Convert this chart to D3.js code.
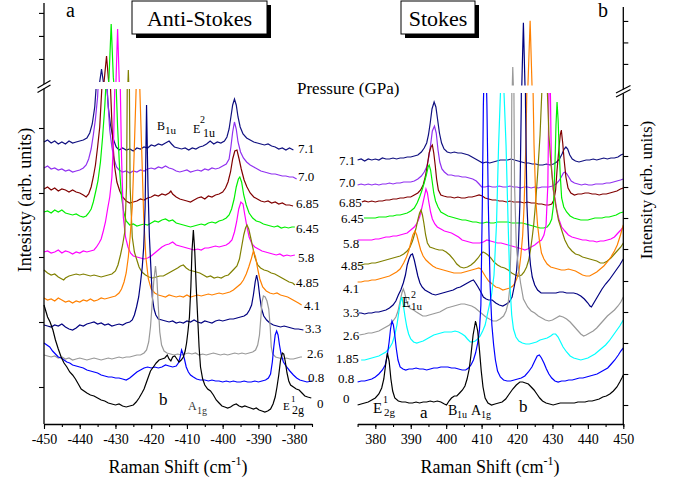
<!DOCTYPE html>
<html>
<head>
<meta charset="utf-8">
<script src="https://cdnjs.cloudflare.com/ajax/libs/d3/7.8.5/d3.min.js"></script>
<style>
body { margin: 0; background: #fff; }
svg { display: block; }
svg text { font-family: 'Liberation Serif', 'Times New Roman', Times, serif !important; }
</style>
</head>
<body>
<svg id="chart" width="676" height="487"></svg>
<script>
// ---- data: anti-stokes (left) spectra, [raman shift, intensity a.u.] ----
var asPressures = ["7.1", "7.0", "6.85", "6.45", "5.8", "4.85", "4.1", "3.3", "2.6", "0.8", "0"];
var asColors = ["#101080", "#9030f0", "#800000", "#00f000", "#ff00ff", "#808000", "#ff8000", "#000080", "#999999", "#0000ff", "#000000"];

var asP71 = [[-450,245],[-449,247],[-448,244],[-447,246],[-446,243],[-445,245],[-444,243],[-443,246],[-442,244],[-441,245],[-440,246],[-439,247],[-438,249],[-437.2,254],[-436.5,263],[-435.8,280],[-435.2,310],[-434.6,380],[-433.9,456],[-433.2,380],[-432.6,310],[-432,280],[-431.4,262],[-430.6,248],[-429.8,240],[-429,237],[-428,239],[-427,237],[-426,238],[-425,236],[-424,239],[-423,238],[-422,240],[-421,239],[-420,242],[-419,241],[-418,243],[-417,242],[-416,244],[-415,246],[-414.3,243],[-413.5,240],[-412.5,239],[-411.5,238],[-410.5,239],[-409.5,237],[-408.5,239],[-407.5,238],[-406.5,240],[-405.5,241],[-404.5,243],[-403.5,246],[-402.5,243],[-401.5,245],[-400.5,244],[-399.5,246],[-398.8,250],[-398.2,258],[-397.7,270],[-397.2,282],[-396.7,288],[-396.2,282],[-395.7,270],[-395.1,260],[-394.3,253],[-393.3,249],[-392.3,247],[-391.3,245],[-390.3,244],[-389.3,243],[-388.3,242],[-387.3,243],[-386.3,241],[-385.3,240],[-384.3,238],[-383.3,239],[-382.3,237],[-381.3,239],[-380.2,237]];
var asP70 = [[-450,219],[-449,221],[-448,218],[-447,219],[-446,217],[-445,218],[-444,216],[-443,217],[-442,215],[-441,216],[-440,217],[-439,219],[-438.2,222],[-437.5,228],[-436.8,238],[-436.2,252],[-435.6,268],[-435,290],[-434.3,340],[-433.5,370],[-432.8,340],[-432.2,290],[-431.6,257],[-431,240],[-430.4,228],[-429.7,220],[-429,217],[-428,215],[-427,216],[-426,214],[-425,216],[-424,215],[-423,217],[-422,216],[-421,218],[-420,219],[-419,218],[-418,220],[-417,219],[-416,221],[-415,219],[-414,218],[-413,216],[-412,215],[-411,216],[-410,217],[-409,215],[-408,216],[-407,217],[-406,216],[-405,218],[-404,217],[-403,219],[-402,218],[-401,219],[-400,221],[-399,223],[-398.2,228],[-397.7,240],[-397.2,255],[-396.7,265],[-396.2,258],[-395.7,245],[-395,235],[-394.2,229],[-393.3,225],[-392.3,222],[-391.3,220],[-390.3,218],[-389.3,216],[-388.3,215],[-387.3,214],[-386.3,213],[-385.3,213],[-384.3,212],[-383.3,211],[-382.3,211],[-381.3,210],[-380.3,210],[-379.3,208]];
var asP685 = [[-450,198],[-449,200],[-448,197],[-447,199],[-446,196],[-445,198],[-444,197],[-443,195],[-442,197],[-441,195],[-440,194],[-439,192],[-438.2,190],[-437.5,193],[-436.8,200],[-436.2,210],[-435.6,222],[-435,240],[-434.4,260],[-433.8,300],[-433.2,400],[-432.5,513],[-431.9,400],[-431.4,300],[-430.9,255],[-430.3,222],[-429.6,205],[-428.8,196],[-428,190],[-427,186],[-426,184],[-425,185],[-424,186],[-423,188],[-422,187],[-421,189],[-420,190],[-419,192],[-418,191],[-417,193],[-416,192],[-415,194],[-414.5,196],[-414,193],[-413,190],[-412,188],[-411,187],[-410,186],[-409,185],[-408,187],[-407,189],[-406,190],[-405,188],[-404,191],[-403,190],[-402,192],[-401,193],[-400,195],[-399.2,199],[-398.5,205],[-397.8,215],[-397.2,228],[-396.6,236],[-396,237],[-395.4,228],[-394.8,218],[-394,207],[-393.2,200],[-392.3,194],[-391.3,190],[-390.3,188],[-389.3,186],[-388.3,185],[-387.3,186],[-386.3,184],[-385.3,185],[-384.3,183],[-383.3,184],[-382.3,182],[-381.3,182],[-380.3,181]];
var asP645 = [[-450,175],[-449,176],[-448,174],[-447,177],[-446,175],[-445,177],[-444,174],[-443,173],[-442,172],[-441,173],[-440,171],[-439,170],[-438.2,171],[-437.5,174],[-436.8,178],[-436.2,185],[-435.5,196],[-434.9,206],[-434.2,225],[-433.6,250],[-433,280],[-432.4,320],[-431.8,420],[-431.2,652],[-430.6,420],[-430,320],[-429.4,260],[-428.8,215],[-428.3,190],[-427.7,175],[-427,166],[-426,162],[-425,163],[-424,161],[-423,162],[-422,163],[-421,162],[-420,164],[-419,166],[-418,165],[-417,167],[-416,168],[-415,166],[-414,167],[-413,164],[-412,163],[-411,162],[-410,161],[-409,160],[-408,161],[-407,162],[-406,163],[-405,162],[-404,164],[-403,165],[-402,164],[-401,166],[-400,167],[-399,169],[-398.2,172],[-397.5,178],[-396.8,188],[-396.2,200],[-395.6,208],[-395.2,210],[-394.7,205],[-394.1,192],[-393.4,182],[-392.6,174],[-391.6,169],[-390.6,166],[-389.6,165],[-388.6,163],[-387.6,162],[-386.6,161],[-385.6,160],[-384.6,161],[-383.6,159],[-382.6,160],[-381.6,159],[-380.6,160],[-379.8,160]];
var asP58 = [[-450,135],[-449,136],[-448,134],[-447,135],[-446,137],[-445,134],[-444,136],[-443,135],[-442,133],[-441,135],[-440,134],[-439,136],[-438,135],[-437,136],[-436,137],[-435.3,140],[-434.6,144],[-434,148],[-433.4,156],[-432.8,165],[-432.2,178],[-431.6,190],[-431,210],[-430.5,250],[-430,330],[-429.4,630],[-428.8,330],[-428.3,230],[-427.8,170],[-427.2,150],[-426.5,140],[-425.8,134],[-425,131],[-424,130],[-423,129],[-422,128],[-421,129],[-420,131],[-419,134],[-418,137],[-417,140],[-416,142],[-415,143],[-414,145],[-413,142],[-412,141],[-411,140],[-410,139],[-409,138],[-408,137],[-407,138],[-406,137],[-405,139],[-404,139],[-403,140],[-402,141],[-401,140],[-400,141],[-399,142],[-398.2,144],[-397.4,147],[-396.7,155],[-396.1,165],[-395.5,178],[-394.9,185],[-394.3,183],[-393.8,172],[-393.2,160],[-392.6,150],[-391.8,143],[-391,140],[-390,138],[-389,136],[-388,135],[-387,134],[-386,133],[-385,132],[-384,133],[-383,131],[-382,132],[-381,131],[-379.8,132]];
var asP485 = [[-450,117],[-449,114],[-448,112],[-447,113],[-446,110],[-445,108],[-444.5,107],[-444,109],[-443,111],[-442,112],[-441,113],[-440,112],[-439,113],[-438,112],[-437,111],[-436,112],[-435,111],[-434,110],[-433,111],[-432,112],[-431,113],[-430,116],[-429.3,122],[-428.6,132],[-428,142],[-427.4,155],[-426.9,200],[-426.4,452],[-425.9,200],[-425.3,150],[-424.7,135],[-424.1,128],[-423.4,120],[-422.6,115],[-421.6,112],[-420.6,110],[-419.6,109],[-418.6,110],[-417.6,111],[-416.6,111],[-415.6,113],[-414.6,115],[-413.6,117],[-412.6,119],[-411.8,121],[-411,122],[-410.2,119],[-409.4,117],[-408.4,116],[-407.4,115],[-406.4,114],[-405.4,112],[-404.4,110],[-403.4,111],[-402.4,109],[-401.4,110],[-400.4,109],[-399.4,111],[-398.4,112],[-397.6,115],[-396.8,118],[-396,121],[-395.3,128],[-394.7,140],[-394.1,152],[-393.6,159],[-393.2,162],[-392.7,158],[-392.2,150],[-391.6,140],[-391,130],[-390.2,122],[-389.4,119],[-388.4,117],[-387.4,116],[-386.4,114],[-385.4,113],[-384.4,111],[-383.4,109],[-382.4,107],[-381.4,105],[-380.4,104],[-379.8,102]];
var asP41 = [[-450,89],[-449,87],[-448,88],[-447,86],[-446,89],[-445,87],[-444,85],[-443,86],[-442,84],[-441,86],[-440,85],[-439,87],[-438,86],[-437,88],[-436,86],[-435,87],[-434,89],[-433,88],[-432,89],[-431,90],[-430,91],[-429,94],[-428.3,98],[-427.6,105],[-427,114],[-426.4,130],[-425.9,150],[-425.3,180],[-424.8,230],[-424.2,300],[-423.7,370],[-423.2,300],[-422.6,230],[-422.1,170],[-421.5,130],[-420.8,108],[-420,98],[-419,94],[-418,92],[-417,91],[-416,90],[-415,92],[-414,91],[-413,90],[-412,91],[-411,90],[-410,92],[-409,90],[-408,91],[-407,92],[-406,91],[-405,92],[-404,93],[-403,92],[-402,93],[-401,94],[-400,93],[-399,94],[-398,95],[-397,97],[-396,100],[-395,103],[-394.2,107],[-393.4,113],[-392.7,120],[-392,128],[-391.4,136],[-390.8,130],[-390.2,118],[-389.6,108],[-388.8,100],[-387.8,96],[-386.8,94],[-385.8,93],[-384.8,94],[-383.8,92],[-382.8,91],[-381.8,90],[-380.8,88],[-379.8,86],[-378.8,84],[-377.9,82]];
var asP33 = [[-450,62],[-449,61],[-448,60],[-447,62],[-446,61],[-445,63],[-444,60],[-443,58],[-442,57],[-441,59],[-440,62],[-439,61],[-438,63],[-437,64],[-436,65],[-435,63],[-434,64],[-433,62],[-432,63],[-431,61],[-430,62],[-429,63],[-428,62],[-427,64],[-426,65],[-425.3,67],[-424.7,72],[-424.1,80],[-423.5,90],[-423,104],[-422.5,120],[-422.1,140],[-421.7,180],[-421.3,282],[-420.9,200],[-420.5,150],[-420.1,120],[-419.7,90],[-419.2,78],[-418.7,72],[-418,68],[-417,67],[-416,66],[-415,65],[-414,66],[-413,64],[-412,65],[-411,64],[-410,66],[-409,65],[-408,67],[-407,65],[-406,64],[-405,66],[-404,65],[-403,64],[-402,66],[-401,67],[-400,66],[-399,67],[-398,68],[-397,68],[-396,69],[-395,70],[-394,71],[-393.2,73],[-392.5,77],[-391.9,82],[-391.4,92],[-390.9,105],[-390.5,112],[-390.1,105],[-389.6,90],[-389.1,78],[-388.5,71],[-387.7,67],[-386.8,64],[-385.8,62],[-384.8,61],[-383.8,60],[-382.8,61],[-381.8,60],[-380.8,59],[-379.8,58],[-378.8,58],[-377.4,57]];
var asP26 = [[-450,32],[-449,31],[-448,30],[-447,31],[-446,29],[-445,30],[-444,28],[-443,29],[-442,27],[-441,28],[-440,29],[-439,28],[-438,27],[-437,28],[-436,29],[-435,28],[-434,27],[-433,28],[-432,29],[-431,28],[-430,29],[-429,30],[-428,29],[-427,30],[-426,30],[-425,31],[-424,32],[-423,32],[-422,34],[-421.3,37],[-420.7,45],[-420.2,60],[-419.8,80],[-419.3,105],[-418.8,121],[-418.4,108],[-418,80],[-417.6,55],[-417.1,42],[-416.4,36],[-415.6,34],[-414.6,33],[-413.6,32],[-412.6,33],[-411.6,32],[-410.6,33],[-409.6,34],[-408.6,33],[-407.6,34],[-406.6,32],[-405.6,33],[-404.6,32],[-403.6,33],[-402.6,34],[-401.6,33],[-400.6,32],[-399.6,33],[-398.6,32],[-397.6,33],[-396.6,34],[-395.6,33],[-394.6,34],[-393.6,33],[-392.6,34],[-391.6,35],[-390.8,37],[-390.2,42],[-389.7,52],[-389.3,70],[-389,85],[-388.6,91],[-388.1,90],[-387.6,86],[-387.1,78],[-386.7,60],[-386.4,40],[-386,33],[-385.2,30],[-384.2,29],[-383.2,28],[-382.2,29],[-381.2,28],[-380.2,28],[-379.2,29],[-378.2,30],[-377.8,30]];
var asP08 = [[-450,44],[-449.2,42],[-448.4,40],[-447.6,36],[-446.8,33],[-446,30],[-445.2,29],[-444.4,27],[-443.6,25],[-442.8,24],[-442,22],[-441,21],[-440,20],[-439,19],[-438,17],[-437,16],[-436,15],[-435,14],[-434,12],[-433,11],[-432,10],[-431,10],[-430,9],[-429,9],[-428,8],[-427,7],[-426,9],[-425,12],[-424,15],[-423,17],[-422,19],[-421,20],[-420,19],[-419,20],[-418,19],[-417,20],[-416,22],[-415,21],[-414,20],[-413,21],[-412.4,24],[-411.9,30],[-411.5,37],[-411.1,33],[-410.7,28],[-410.2,20],[-409.6,15],[-409,12],[-408.2,10],[-407.3,8],[-406.3,7],[-405,7],[-404,6],[-403,7],[-402,6],[-401,6],[-400,5],[-399,6],[-398,5],[-397,6],[-396,5],[-395,5],[-394,6],[-393,5],[-392,5],[-391,6],[-390,5],[-389,6],[-388,7],[-387.2,9],[-386.6,13],[-386.1,25],[-385.7,40],[-385.3,52],[-384.9,56],[-384.5,52],[-384.1,42],[-383.6,32],[-383,25],[-382.1,20],[-381.2,16],[-380.2,12],[-379.3,9],[-378.4,7],[-377.4,6],[-376.4,5],[-375,6]];
var asP0 = [[-450,82],[-449.5,76],[-449,70],[-448.3,65],[-447.5,57],[-446.8,47],[-446,38],[-445.2,30],[-444.4,24],[-443.6,20],[-442.8,15],[-442,12],[-441.2,8],[-440.4,3],[-439.6,-2],[-438.8,-4],[-438,-6],[-437,-8],[-436,-9],[-435,-11],[-434,-13],[-433,-14],[-432,-16],[-431,-17],[-430,-18],[-429,-17],[-428,-19],[-427,-20],[-426,-19],[-425,-18],[-424.2,-15],[-423.4,-11],[-422.6,-6],[-422,-2],[-421.4,4],[-420.8,10],[-420.2,16],[-419.4,20],[-418.6,24],[-417.8,27],[-417,28],[-416.2,29],[-415.5,32],[-415,28],[-414.5,26],[-414,30],[-413.4,31],[-412.8,28],[-412.2,25],[-411.6,27],[-411,30],[-410.5,36],[-410.1,44],[-409.7,56],[-409.3,70],[-408.9,100],[-408.6,135],[-408.2,157],[-407.8,135],[-407.4,100],[-407,70],[-406.6,40],[-406.2,20],[-405.6,8],[-405,2],[-404.2,-2],[-403.4,-4],[-402.6,-8],[-401.8,-13],[-401,-16],[-400.2,-19],[-399.4,-20],[-398.6,-21],[-397.8,-20],[-397,-18],[-396.2,-17],[-395.4,-19],[-394.6,-20],[-393.8,-19],[-393,-20],[-392.2,-21],[-391.4,-22],[-390.6,-21],[-389.8,-23],[-389,-24],[-388.2,-25],[-387.4,-24],[-386.6,-22],[-385.9,-17],[-385.3,-10],[-384.8,0],[-384.3,12],[-383.8,27],[-383.3,34],[-382.9,33],[-382.5,26],[-382,14],[-381.5,6],[-381,2],[-380.2,0],[-379.4,-2],[-378.6,-3],[-377.8,-6],[-377,-9],[-376.2,-10],[-375.2,-11]];

// ---- data: stokes (right) spectra ----
var stPressures = ["7.1", "7.0", "6.85", "6.45", "5.8", "4.85", "4.1", "3.3", "2.6", "1.85", "0.8", "0"];
var stColors = ["#101080", "#9030f0", "#800000", "#00f000", "#ff00ff", "#808000", "#ff8000", "#000080", "#999999", "#00ffff", "#0000ff", "#000000"];

var stP71 = [[375,245],[376,246],[377,244],[378,246],[379,245],[380,246],[381,245],[382,247],[383,246],[384,246],[385,247],[386,246],[387,247],[388,247],[389,248],[390,248],[391,249],[392,250],[393,253],[393.8,257],[394.5,262],[395,270],[395.5,282],[396,296],[396.6,303],[397.1,298],[397.6,285],[398.1,272],[398.7,262],[399.4,256],[400.3,253],[401.3,252],[402.3,253],[403.3,252],[404.3,252],[405.3,251],[406.3,250],[407.3,248],[408.3,246],[409.3,244],[410.3,242],[411.3,243],[412.3,242],[413.3,243],[414.3,244],[415.3,245],[416.3,245],[417.3,245],[418.3,246],[419.3,245],[420.3,244],[421.3,243],[422.3,242],[423.3,242],[424.3,241],[425.3,241],[426.3,240],[427.3,240],[428.3,241],[429.3,240],[430.3,241],[431.2,243],[432,246],[432.7,251],[433.3,256],[433.8,258],[434.3,256],[434.9,250],[435.6,246],[436.5,244],[437.5,243],[438.5,244],[439.5,245],[440.5,245],[441.5,246],[442.5,245],[443.5,246],[444.5,247],[445.5,246],[446.5,247],[447.5,247],[448.5,248],[449.3,250],[450,251]];
var stP70 = [[375,220],[376,221],[377,220],[378,221],[379,220],[380,221],[381,220],[382,221],[383,221],[384,222],[385,221],[386,222],[387,222],[388,223],[389,223],[390,223],[391,224],[392,226],[393,229],[393.8,233],[394.5,238],[395.1,248],[395.6,260],[396.1,274],[396.7,279],[397.2,272],[397.7,255],[398.2,243],[398.8,236],[399.5,233],[400.5,230],[401.5,230],[402.5,229],[403.5,229],[404.5,228],[405.5,228],[406.5,227],[407.5,226],[408.5,224],[409.3,221],[410,218],[411,218],[412,219],[413,218],[414,218],[415,219],[416,218],[417,218],[418,219],[419,218],[420,218],[421,217],[422,218],[423,218],[424,217],[425,218],[426,217],[427,218],[428,218],[429,218],[430,219],[431,221],[431.8,224],[432.5,228],[433.1,232],[433.6,233],[434.1,231],[434.6,228],[435.3,224],[436.2,222],[437.2,221],[438.2,220],[439.2,221],[440.2,220],[441.2,220],[442.2,221],[443.2,221],[444.2,221],[445.2,222],[446.2,222],[447.2,223],[448.2,224],[449.2,225],[450,226]];
var stP685 = [[376.2,203],[377,204],[378,203],[379,204],[380,203],[381,204],[382,204],[383,205],[384,205],[385,206],[386,206],[387,207],[388,207],[389,208],[390,208],[391,210],[392,212],[392.8,215],[393.5,220],[394.1,228],[394.7,240],[395.2,252],[395.7,258],[396.1,260],[396.5,252],[396.9,240],[397.3,226],[397.8,215],[398.5,210],[399.3,209],[400.3,208],[401.3,208],[402.3,207],[403.3,208],[404.3,207],[405.3,207],[406.3,208],[407.3,208],[408.3,209],[409.3,210],[410.2,209],[411,207],[412,206],[413,205],[414,205],[415,204],[416,204],[417,203],[418,204],[419,203],[420,203],[421,203],[422,202],[423,203],[424,202],[425,202],[426,201],[427,201],[428,200],[429,200],[429.8,201],[430.4,205],[430.9,215],[431.3,235],[431.8,255],[432.2,270],[432.5,275],[432.9,262],[433.3,245],[433.8,228],[434.4,217],[435.2,212],[436.2,210],[437.2,211],[438.2,211],[439.2,212],[440.2,212],[441.2,211],[442.2,211],[443.2,210],[444.2,211],[445.2,211],[446.2,212],[447.2,213],[448.2,214],[449.2,216],[450,217]];
var stP645 = [[376.8,187],[378,187],[379,187],[380,187],[381,188],[382,188],[383,188],[384,189],[385,189],[386,190],[387,190],[388,191],[389,192],[390,194],[391,197],[391.8,202],[392.5,208],[393.2,215],[393.8,222],[394.4,230],[394.9,238],[395.2,240],[395.6,235],[396,225],[396.5,212],[397,204],[397.7,198],[398.5,193],[399.5,191],[400.5,189],[401.5,188],[402.5,187],[403.5,186],[404.5,185],[405.5,185],[406.5,184],[407.5,183],[408.5,183],[409.5,182],[410.5,182],[411.5,183],[412.5,182],[413.5,182],[414.5,183],[415.5,183],[416.5,183],[417.5,183],[418.5,182],[419.5,182],[420.5,182],[421.5,182],[422.5,181],[423.5,180],[424.5,179],[425.5,178],[426.5,177],[427.5,177],[428.5,178],[429.2,181],[429.8,186],[430.3,200],[430.7,240],[431,280],[431.3,303],[431.6,285],[431.9,255],[432.2,230],[432.6,207],[433.2,198],[434,193],[435,189],[436,187],[437,186],[438,185],[439,185],[440,185],[441,186],[442,187],[443,187],[444,187],[445,188],[446,188],[447,189],[448,190],[449,192],[450,193]];
var stP58 = [[375,165],[376,165],[377,165],[378,165],[379,165],[380,166],[381,166],[382,167],[383,168],[384,168],[385,169],[386,169],[387,170],[388,171],[389,172],[390,175],[391,178],[391.8,182],[392.5,188],[393,195],[393.5,203],[394,211],[394.3,216],[394.7,212],[395.1,203],[395.6,193],[396.1,186],[396.8,181],[397.5,178],[398.5,176],[399.5,174],[400.5,173],[401.5,172],[402.5,170],[403.5,168],[404.5,165],[405.5,164],[406.5,163],[407.5,162],[408.5,162],[409.5,162],[410.5,163],[411.5,165],[412.5,164],[413.5,163],[414.5,162],[415.5,162],[416.5,161],[417.5,160],[418.5,159],[419.5,158],[420.5,157],[421.5,156],[422.2,155],[423,156],[424,158],[425,160],[426,163],[426.9,165],[427.6,170],[428.2,180],[428.7,220],[429.2,370],[429.7,240],[430.2,215],[430.7,207],[431.2,196],[431.8,186],[432.6,178],[433.5,174],[434.5,170],[435.5,168],[436.5,167],[437.5,166],[438.5,165],[439.5,165],[440.5,164],[441.5,164],[442.5,163],[443.5,164],[444.5,164],[445.5,165],[446.5,166],[447.5,168],[448.5,172],[449.3,175],[450,178]];
var stP485 = [[375,140],[376,140],[377,141],[378,141],[379,142],[380,142],[381,143],[382,144],[383,145],[384,146],[385,147],[386,148],[387,149],[388,151],[389,154],[389.8,158],[390.5,164],[391,170],[391.5,177],[392,185],[392.5,192],[392.9,195],[393.3,190],[393.7,182],[394.2,170],[394.7,162],[395.4,158],[396.2,157],[397,156],[398,155],[399,155],[400,153],[401,150],[402,146],[403,141],[404,138],[405,137],[406,138],[407,140],[408,143],[409,147],[409.8,151],[410.4,153],[411,152],[411.8,150],[412.6,147],[413.5,143],[414.5,140],[415.5,138],[416.5,137],[417.5,135],[418.5,132],[419.5,130],[420.5,129],[421.3,130],[422,133],[422.7,138],[423.3,145],[423.8,155],[424.3,168],[424.7,180],[425.2,200],[425.8,230],[426.5,270],[427.2,330],[427.8,380],[428.4,330],[429,270],[429.6,240],[430.3,215],[431,198],[431.7,185],[432.5,176],[433.5,165],[434.5,158],[435.5,154],[436.5,151],[437.5,150],[438.5,148],[439.5,147],[440.5,146],[441.5,145],[442.5,144],[443.5,142],[444.5,142],[445.5,144],[446.5,147],[447.5,151],[448.5,155],[449.3,158],[450,162]];
var stP41 = [[375,123],[376,123],[377,124],[378,124],[379,125],[380,125],[381,126],[382,127],[383,128],[384,129],[385,131],[386,133],[387,136],[388,142],[388.8,148],[389.5,155],[390,162],[390.6,170],[391.2,174],[391.7,170],[392.2,163],[392.8,155],[393.5,149],[394.3,145],[395.2,142],[396.2,139],[397.2,137],[398.2,136],[399.2,135],[400.2,134],[401.2,133],[402.2,132],[403.2,132],[404.2,132],[405.2,133],[406.2,134],[407.2,135],[408.2,136],[409.2,137],[409.8,136],[410.5,132],[411.2,128],[412,124],[413,121],[414,118],[415,117],[416,115],[417,116],[418,117],[418.8,119],[419.4,122],[420,127],[420.6,135],[421.1,150],[421.6,170],[422,200],[422.5,260],[423,360],[423.7,701],[424.3,360],[424.8,260],[425.3,205],[425.8,180],[426.3,165],[426.9,152],[427.6,146],[428.5,141],[429.5,138],[430.5,137],[431.5,136],[432.5,135],[433.5,135],[434.5,136],[435.5,135],[436.5,134],[437.5,132],[438.5,130],[439.5,129],[440.5,129],[441.5,131],[442.5,133],[443.5,136],[444.5,139],[445.5,143],[446.5,148],[447.5,154],[448.3,160],[449.2,170],[450,180]];
var stP33 = [[375.3,92],[376,92],[377,91],[378,92],[379,92],[380,93],[381,93],[382,94],[383,95],[384,97],[385,100],[385.8,104],[386.5,110],[387.2,115],[387.9,122],[388.5,130],[389,140],[389.5,146],[390,150],[390.5,151],[391,145],[391.5,137],[392,129],[392.6,122],[393.2,118],[394,115],[395,113],[396,111],[397,110],[398,111],[399,112],[400,113],[401,114],[402,115],[403,117],[404,118],[405,120],[406,122],[407,124],[407.7,125],[408.3,122],[409,118],[409.8,113],[410.5,108],[411.3,106],[412,105],[413,105],[414,102],[415,100],[416,99],[417,101],[417.8,103],[418.6,108],[419.3,120],[419.9,135],[420.4,160],[420.8,200],[421.2,300],[421.8,692],[422.4,300],[422.8,200],[423.3,160],[423.8,140],[424.3,128],[425,120],[425.8,115],[426.8,112],[428,112],[429,112],[430,112],[431,112],[432,113],[433,113],[434,112],[435,112],[436,112],[437,111],[438,109],[439,106],[440,102],[440.6,99],[441,98],[441.5,101],[442,104],[443,110],[444,116],[445,121],[446,125],[447,130],[448,135],[449,140],[450,146]];
var stP26 = [[375.5,70],[377,71],[378,72],[379,72],[380,73],[381,74],[382,76],[383,78],[384,80],[385,84],[385.8,88],[386.4,94],[387,104],[387.5,112],[387.9,116],[388.3,112],[388.8,104],[389.4,98],[390.1,96],[390.8,95],[391.6,93],[392.5,91],[393.4,89],[394.3,89],[395.2,90],[396.2,91],[397.2,92],[398.2,93],[399.2,95],[400.2,97],[401.2,98],[402.2,99],[403.2,100],[404.2,101],[405.2,101],[406.2,100],[407.2,99],[408.2,97],[409.2,94],[410.2,91],[411.2,88],[412.2,86],[413.2,84],[414.2,84],[415.2,86],[416.2,89],[416.9,94],[417.5,102],[417.9,115],[418.3,160],[418.8,486],[419.3,220],[419.8,160],[420.3,140],[421,122],[421.8,106],[423,98],[424,94],[425,92],[426,89],[427,87],[428,85],[429,84],[430,85],[431,87],[432,89],[433,88],[434,86],[435,83],[436,79],[437,75],[438,71],[438.8,69],[439.5,70],[440.5,72],[441.5,74],[442.5,77],[443.5,81],[444.5,85],[445.5,89],[446.5,92],[447.5,95],[448.5,99],[449.3,103],[450,108]];
var stP185 = [[376,45],[377,45],[378,46],[379,47],[380,48],[381,49],[382,51],[383,53],[384,57],[384.8,62],[385.5,70],[386.1,80],[386.6,92],[387.1,103],[387.5,108],[387.9,100],[388.4,88],[388.9,78],[389.4,71],[390,66],[390.8,63],[391.7,62],[392.6,63],[393.5,64],[394.5,66],[395.5,68],[396.5,70],[397.5,71],[398.5,72],[399.5,73],[400.5,73],[401.5,73],[402.5,74],[403.5,73],[404.5,71],[405.3,69],[406,66],[406.8,63],[407.5,63],[408.2,64],[408.9,66],[409.6,69],[410.3,74],[411,80],[411.6,90],[412.2,100],[412.8,110],[413.5,130],[414.2,180],[414.8,260],[415.8,360],[416.9,260],[417.5,180],[418,120],[418.5,90],[419,76],[419.7,68],[420.5,64],[421.5,62],[422.5,61],[423.5,61],[424.5,62],[425.5,63],[426.5,65],[427.5,66],[428.5,67],[429.5,69],[430.2,71],[430.9,71],[431.6,68],[432.3,63],[433,58],[434,53],[435,49],[436,47],[437,46],[438,45],[439,46],[440,47],[441,49],[442,51],[443,54],[444,57],[445,60],[446,64],[447,69],[448,74],[449,79],[450,85]];
var stP08 = [[375,23],[376,24],[377,24],[378,25],[379,26],[380,28],[381,31],[382,35],[382.8,40],[383.4,50],[383.9,63],[384.3,76],[384.7,84],[385.1,80],[385.5,70],[385.9,57],[386.4,45],[387,38],[387.8,36],[388.6,35],[389.5,36],[390.5,36],[391.5,37],[392.5,36],[393.5,36],[394.5,35],[395.5,36],[396.5,37],[397.5,37],[398.5,38],[399.5,38],[400.5,38],[401.5,37],[402.5,37],[403.5,36],[404.5,35],[405.5,35],[406.3,37],[407,40],[407.7,45],[408.3,52],[408.9,62],[409.4,75],[409.8,100],[410.2,200],[410.5,300],[411,380],[411.5,300],[411.9,200],[412.4,120],[412.9,80],[413.4,60],[413.9,45],[414.5,34],[415.3,28],[416.2,25],[417.2,24],[418.2,24],[419.2,25],[420.2,26],[421.2,27],[422.2,29],[423.2,33],[424.2,38],[425,44],[425.7,49],[426.3,50],[426.9,47],[427.6,42],[428.3,36],[429,31],[429.8,27],[430.7,24],[431.6,23],[432.6,24],[433.6,24],[434.6,25],[435.6,25],[436.6,26],[437.6,27],[438.6,27],[439.6,28],[440.6,29],[441.6,30],[442.6,31],[443.6,33],[444.6,35],[445.6,37],[446.6,41],[447.6,45],[448.6,50],[449.3,54],[450,57]];
var stP0 = [[375,0],[376,1],[377,2],[378,3],[379,5],[380,7],[381,11],[381.8,17],[382.4,26],[382.9,40],[383.4,52],[383.9,44],[384.4,26],[384.9,14],[385.5,7],[386.5,4],[387.5,3],[388.5,3],[389.5,2],[390.5,2],[391.5,3],[392.5,2],[393.5,3],[394.5,3],[395.5,4],[396.5,3],[397.5,4],[398.5,3],[399.5,1],[400.1,0],[400.8,4],[401.5,7],[402.3,9],[403,9],[403.8,12],[404.6,15],[405.3,19],[405.9,26],[406.5,36],[407,50],[407.6,70],[408.3,84],[408.9,74],[409.4,55],[409.9,34],[410.4,18],[411,7],[411.8,2],[412.8,0],[413.8,1],[414.8,2],[415.8,3],[416.8,6],[417.8,11],[418.8,16],[419.8,20],[420.8,23],[421.6,23],[422.4,22],[423.2,21],[424,18],[424.8,15],[425.6,11],[426.4,7],[427.2,4],[428.2,2],[429.2,1],[430.2,0],[431.2,1],[432.2,2],[433.2,2],[434.2,2],[435.2,2],[436.2,2],[437.2,3],[438.2,3],[439.2,3],[440.2,4],[441.2,4],[442.2,5],[443.2,6],[444.2,8],[445.2,9],[446.2,11],[447.2,14],[448.2,18],[449,23],[449.6,27],[450,30]];

// axis ticks (unlabelled y ticks in intensity units)
var asXTicks = [-450, -440, -430, -420, -410, -400, -390, -380];
var stXTicks = [380, 390, 400, 410, 420, 430, 440, 450];
var asYTicksLo = [0, 65, 130, 194, 259];
var stYTicksLo = [0, 31, 62, 93, 124, 156, 187, 218, 249, 280];
var yTicksHi = [500, 600, 700];

var asSeries = [asP71, asP70, asP685, asP645, asP58, asP485, asP41, asP33, asP26, asP08, asP0];
var stSeries = [stP71, stP70, stP685, stP645, stP58, stP485, stP41, stP33, stP26, stP185, stP08, stP0];

// ---- layout ----
var FONT = "'Liberation Serif', 'Times New Roman', Times, serif";
var svg = d3.select("#chart").style("font-family", FONT);
var AXIS_Y = 424;

// pressure label anchor points [x, y centre]
var asLabelPos = [[298,148],[298,176],[296,203],[296,228],[298,257],[296,282],[304,305],[305,328],[307,353],[308,377],[317,403]];
var stLabelPos = [[339,160],[339,182],[339,202],[341,218],[343,243],[341,265],[343,288],[343,312],[343,335],[336,358],[338,378],[343,398]];

function txt(x, y, size, s) {
	return svg.append("text").attr("x", x).attr("y", y).attr("font-size", size)
		.style("font-family", FONT).text(s);
}

function drawPanel(o) {
	var x = d3.scaleLinear().domain(o.xDomain).range(o.xRange);
	var yLo = d3.scaleLinear().domain(o.loDomain).range([AXIS_Y, o.loTop]);
	var yHi = d3.scaleLinear().domain(o.hiDomain).range([o.hiBottom, o.hiTop]);

	var defs = svg.append("defs");
	defs.append("clipPath").attr("id", o.id + "lo").append("rect")
		.attr("x", o.xRange[0] - 2).attr("y", o.loTop)
		.attr("width", o.xRange[1] - o.xRange[0] + 4).attr("height", AXIS_Y - o.loTop);
	defs.append("clipPath").attr("id", o.id + "hi").append("rect")
		.attr("x", o.xRange[0] - 2).attr("y", 0)
		.attr("width", o.xRange[1] - o.xRange[0] + 4).attr("height", o.hiBottom);

	var lineLo = d3.line().x(function(d) { return x(d[0]); }).y(function(d) { return yLo(d[1]); });
	var lineHi = d3.line().x(function(d) { return x(d[0]); }).y(function(d) { return yHi(d[1]); });

	var gLo = svg.append("g").attr("clip-path", "url(#" + o.id + "lo)");
	var gHi = svg.append("g").attr("clip-path", "url(#" + o.id + "hi)");

	o.series.forEach(function(s, i) {
		gLo.append("path").datum(s).attr("d", lineLo)
			.attr("fill", "none").attr("stroke", o.colors[i]).attr("stroke-width", 1.2);
		if (d3.max(s, function(d) { return d[1]; }) > o.hiDomain[0]) {
			gHi.append("path").datum(s).attr("d", lineHi)
				.attr("fill", "none").attr("stroke", o.colors[i]).attr("stroke-width", 1.2);
		}
	});

	// pressure labels
	o.labels.forEach(function(t, i) {
		txt(o.labelPos[i][0], o.labelPos[i][1] + 4.5, 13, t);
	});

	// bottom axis
	var minor = d3.range(o.xDomain[0], o.xDomain[1] + 0.1, 5);
	svg.append("g").attr("transform", "translate(0," + AXIS_Y + ")")
		.call(d3.axisBottom(x).tickValues(minor).tickSize(3).tickSizeOuter(0).tickFormat(""))
		.call(function(g) { g.selectAll("line").attr("stroke-width", 1.1); g.select(".domain").attr("stroke-width", 1.3); });
	svg.append("g").attr("transform", "translate(0," + AXIS_Y + ")")
		.call(d3.axisBottom(x).tickValues(o.xTicks).tickSize(5).tickSizeOuter(0).tickPadding(5)
			.tickFormat(function(d) { return String(d); }))
		.call(function(g) {
			g.attr("font-family", null).attr("font-size", 14);
			g.select(".domain").remove();
			g.selectAll("line").attr("stroke-width", 1.1);
			g.selectAll("text").attr("fill", "#000").style("font-family", FONT);
		});

	// y axis (broken)
	var ax = o.yAxisX;
	var mk = o.side === "left" ? d3.axisLeft : d3.axisRight;
	svg.append("g").attr("transform", "translate(" + ax + ",0)")
		.call(mk(yLo).tickValues(o.yTicksLo).tickSize(5).tickFormat(""))
		.call(function(g) { g.select(".domain").remove(); g.selectAll("line").attr("stroke-width", 1.1); });
	svg.append("g").attr("transform", "translate(" + ax + ",0)")
		.call(mk(yHi).tickValues(o.yTicksHi).tickSize(5).tickFormat(""))
		.call(function(g) { g.select(".domain").remove(); g.selectAll("line").attr("stroke-width", 1.1); });
	svg.append("line").attr("x1", ax).attr("x2", ax).attr("y1", o.axisTop).attr("y2", o.breakA)
		.attr("stroke", "#000").attr("stroke-width", 1.3);
	svg.append("line").attr("x1", ax).attr("x2", ax).attr("y1", o.breakB).attr("y2", AXIS_Y)
		.attr("stroke", "#000").attr("stroke-width", 1.3);
	o.slashes.forEach(function(s) {
		svg.append("line").attr("x1", s[0]).attr("y1", s[1]).attr("x2", s[2]).attr("y2", s[3])
			.attr("stroke", "#000").attr("stroke-width", 1.2);
	});

	// axis title
	var t = txt(o.titleX, 473, 18, null).attr("text-anchor", "middle");
	t.append("tspan").text("Raman Shift (cm");
	t.append("tspan").attr("font-size", 12).attr("dy", -8).text("-1");
	t.append("tspan").attr("dy", 8).text(")");
}

drawPanel({
	id: "as", series: asSeries, colors: asColors, labels: asPressures, labelPos: asLabelPos,
	xDomain: [-450, -375], xRange: [44, 312], xTicks: asXTicks,
	loDomain: [-37, 298], loTop: 89, hiDomain: [400, 743], hiBottom: 82, hiTop: 3,
	yTicksLo: asYTicksLo, yTicksHi: yTicksHi, yAxisX: 44, side: "left",
	axisTop: 3, breakA: 84.1, breakB: 88.6,
	slashes: [[37.5, 88, 50.5, 80.5], [37.5, 92.5, 50.5, 85]],
	titleX: 178
});

drawPanel({
	id: "st", series: stSeries, colors: stColors, labels: stPressures, labelPos: stLabelPos,
	xDomain: [375, 450], xRange: [357.6, 623.3], xTicks: stXTicks,
	loDomain: [-19, 312], loTop: 93, hiDomain: [400, 763], hiBottom: 85.4, hiTop: 7.4,
	yTicksLo: stYTicksLo, yTicksHi: yTicksHi, yAxisX: 623.3, side: "right",
	axisTop: 7, breakA: 89.4, breakB: 93.4,
	slashes: [[616, 93, 630.5, 85.5], [616, 97, 630.5, 89.5]],
	titleX: 490
});

// y-axis titles
txt(0, 0, 18, "Intesisty (arb. units)").attr("transform", "translate(31,200) rotate(-90)").attr("text-anchor", "middle");
txt(0, 0, 17, "Intensity (arb. units)").attr("transform", "translate(652,190) rotate(-90)").attr("text-anchor", "middle");

// title boxes
function titleBox(x, y, w, h, label) {
	svg.append("rect").attr("x", x + 4).attr("y", y + 4).attr("width", w).attr("height", h).attr("fill", "#000");
	svg.append("rect").attr("x", x).attr("y", y).attr("width", w).attr("height", h)
		.attr("fill", "#fff").attr("stroke", "#000").attr("stroke-width", 1);
	txt(x + w / 2, y + 25, 22, label).attr("text-anchor", "middle");
}
titleBox(132, 1, 135, 33, "Anti-Stokes");
titleBox(401, 1, 74, 33, "Stokes");

txt(66, 17, 20, "a");
txt(598, 17, 20, "b");
txt(297, 94, 17, "Pressure (GPa)");

// peak annotations: [text, x, baseline, size, colour]
var notes = [
	["B", 157, 130, 12, "#000"], ["1u", 165, 134, 11, "#000"],
	["E", 193, 133, 12, "#000"], ["2", 200, 123, 10, "#000"], ["1u", 203, 137, 12, "#000"],
	["b", 159, 405, 17, "#000"],
	["A", 188, 410, 12, "#333"], ["1g", 197, 414, 10, "#333"],
	["E", 283, 410, 11, "#000"], ["1", 291, 402, 9, "#000"], ["2g", 292, 414, 12, "#000"],
	["E", 373, 413, 15, "#000"], ["1", 383, 403, 10, "#000"], ["2g", 384, 416, 11, "#000"],
	["a", 420, 418, 17, "#000"],
	["B", 448, 415, 14, "#000"], ["1u", 457, 418, 10, "#000"],
	["A", 471, 415, 14, "#000"], ["1g", 481, 418, 10, "#000"],
	["b", 519, 412, 17, "#000"],
	["E", 402, 307, 14, "#000"], ["2", 411, 298, 10, "#000"], ["1u", 411, 310, 11, "#000"]
];
notes.forEach(function(n) {
	txt(n[1], n[2], n[3], n[0]).attr("fill", n[4]);
});
</script>
</body>
</html>
